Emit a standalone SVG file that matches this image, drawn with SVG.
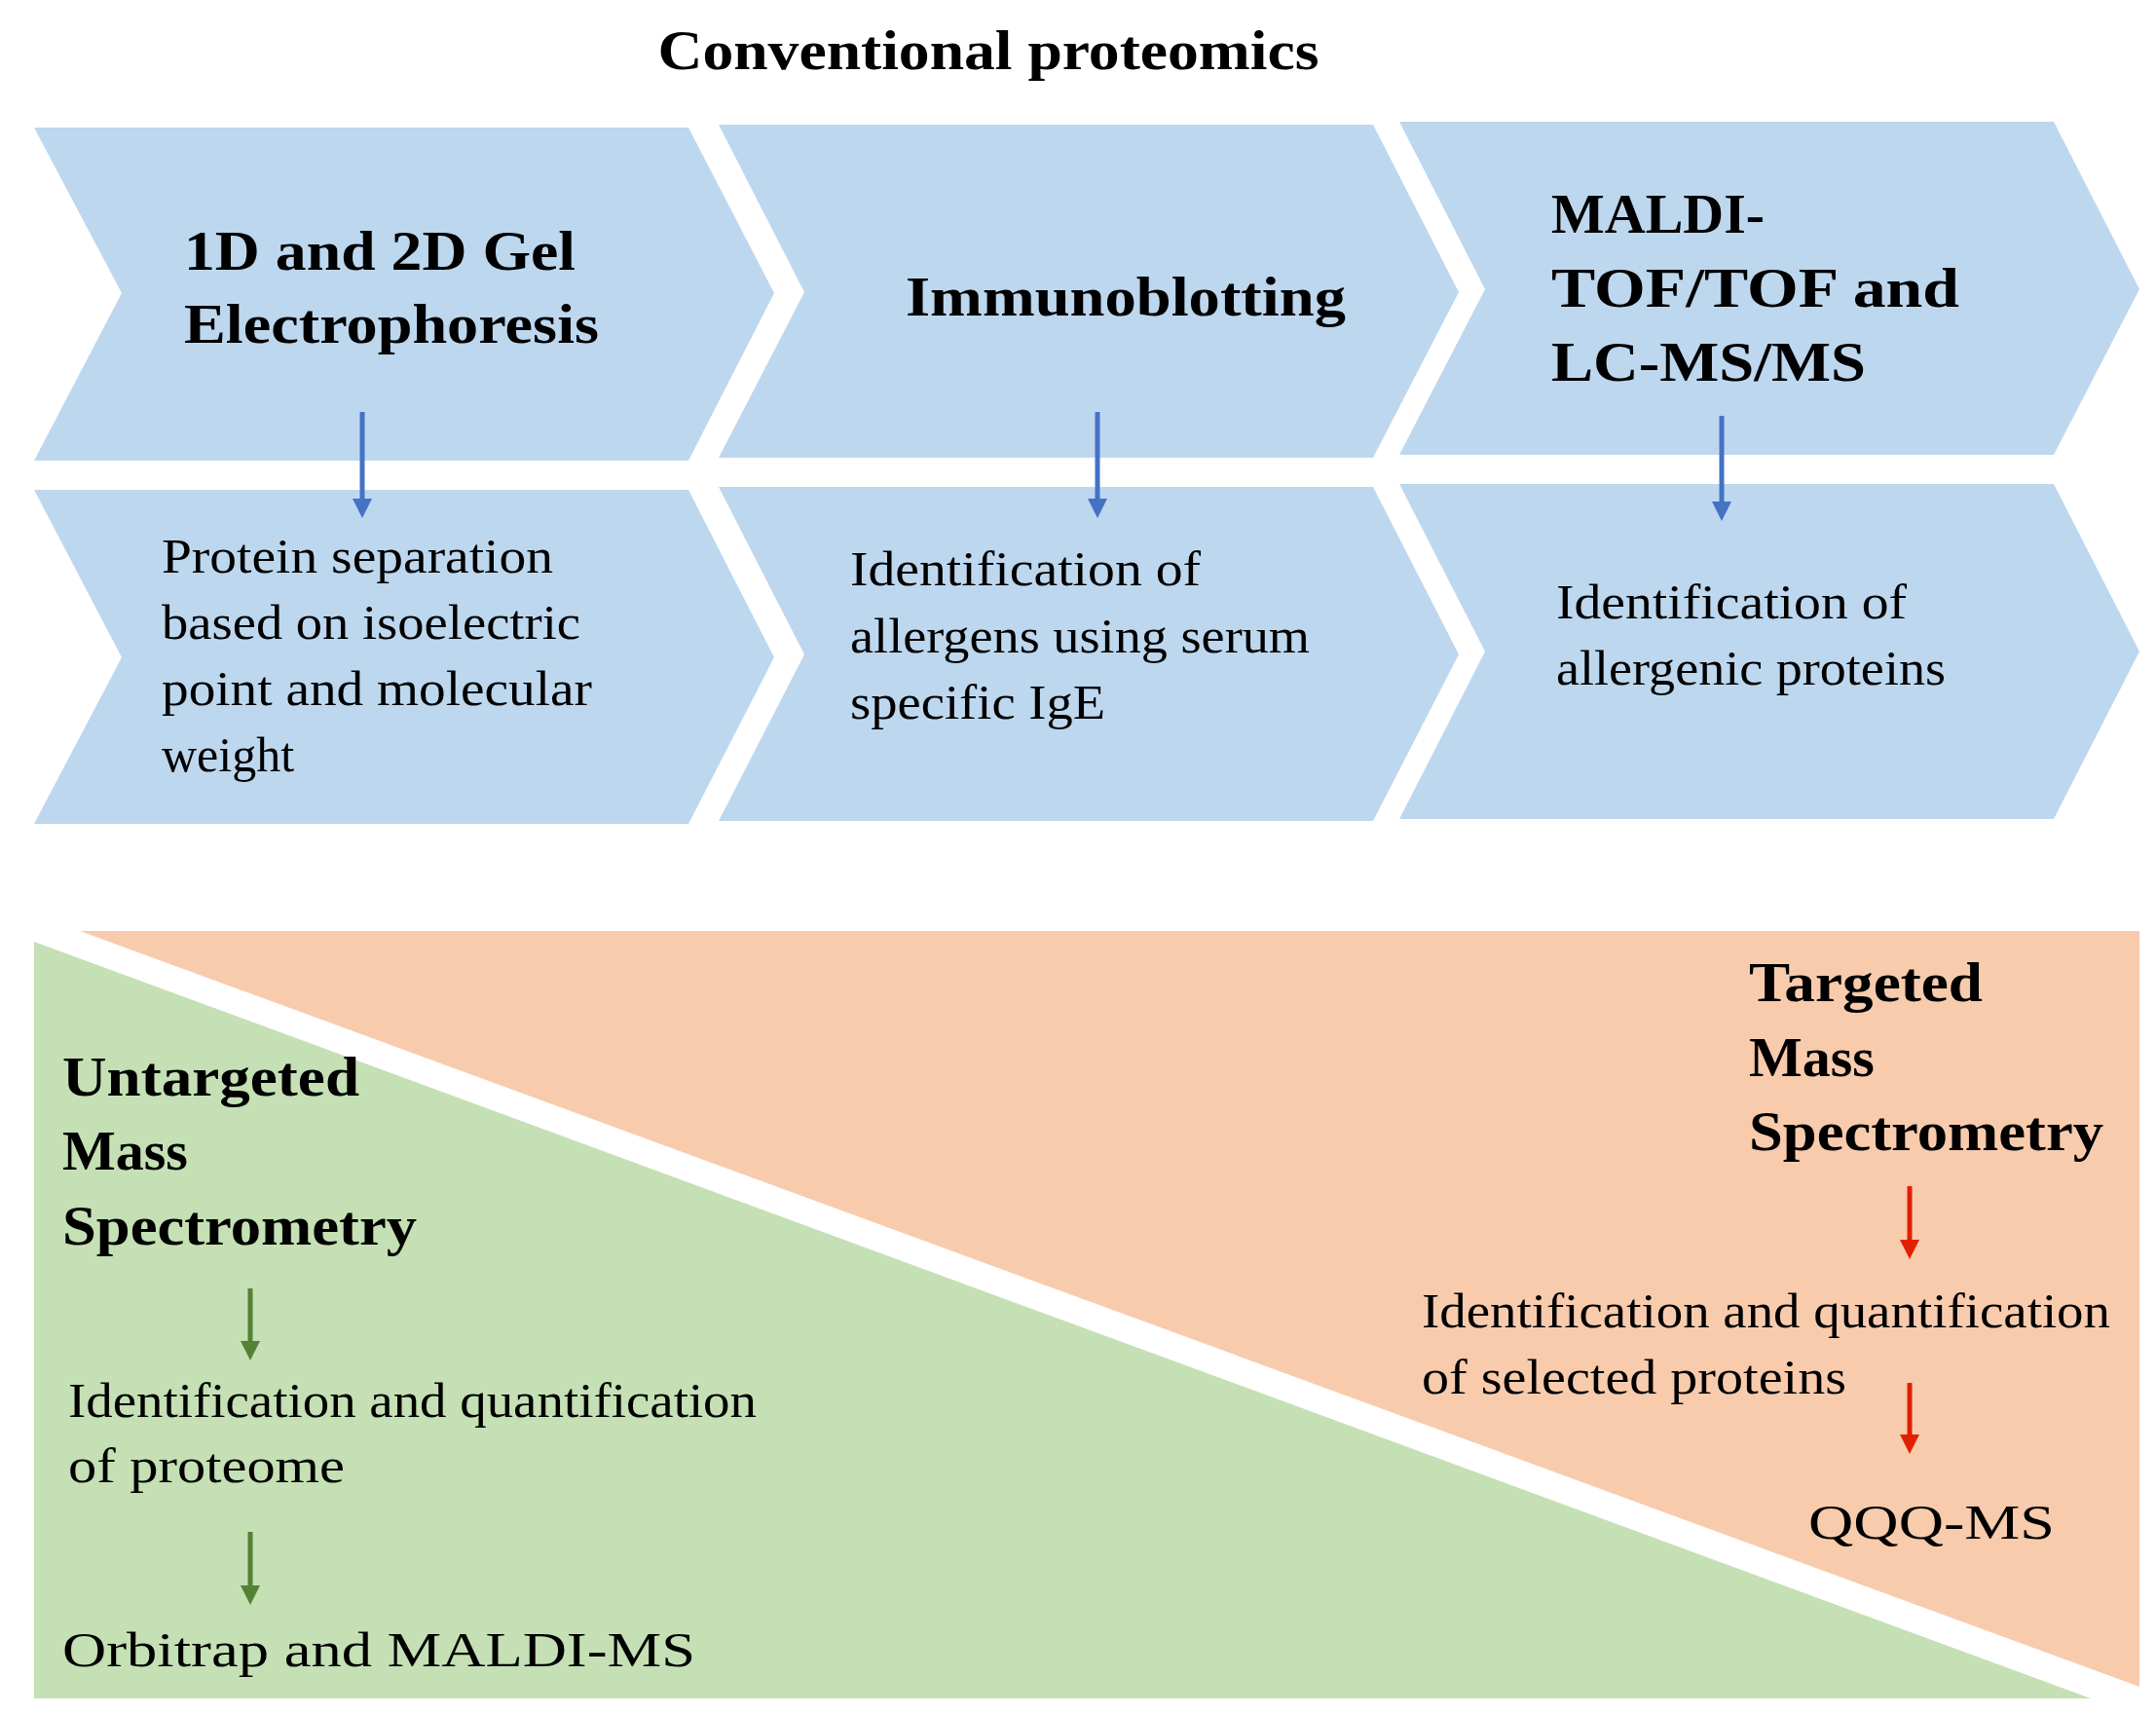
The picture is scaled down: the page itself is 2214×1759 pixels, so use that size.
<svg xmlns="http://www.w3.org/2000/svg" width="2214" height="1759" viewBox="0 0 2214 1759">
<style>
.chev{fill:#BDD7EE}
.b{font-family:"Liberation Serif",serif;font-weight:bold;font-size:58px;fill:#000}
.r{font-family:"Liberation Serif",serif;font-size:50px;fill:#000}
.bl{stroke:#4472C4;stroke-width:5;fill:none}
.gr{stroke:#548235;stroke-width:5;fill:none}
.rd{stroke:#E02000;stroke-width:5;fill:none}
</style>
<defs>
<marker id="mb" markerWidth="4" markerHeight="4" refX="2" refY="2" orient="auto" markerUnits="strokeWidth"><path d="M0,0L4,2L0,4Z" fill="#4472C4"/></marker>
<marker id="mg" markerWidth="4" markerHeight="4" refX="2" refY="2" orient="auto" markerUnits="strokeWidth"><path d="M0,0L4,2L0,4Z" fill="#548235"/></marker>
<marker id="mr" markerWidth="4" markerHeight="4" refX="2" refY="2" orient="auto" markerUnits="strokeWidth"><path d="M0,0L4,2L0,4Z" fill="#E02000"/></marker>
</defs>
<rect width="2214" height="1759" fill="#fff"/>
<text class="b" x="1015" y="71" text-anchor="middle" textLength="679" lengthAdjust="spacingAndGlyphs">Conventional proteomics</text>
<g id="n1"><polygon class="chev" points="35,131 707,131 795,301 707,473 35,473 125,301"/>
<text class="b" x="189" y="277" textLength="402" lengthAdjust="spacingAndGlyphs">1D and 2D Gel</text>
<text class="b" x="189" y="352" textLength="426" lengthAdjust="spacingAndGlyphs">Electrophoresis</text></g>
<g id="n2"><polygon class="chev" points="738,128 1410,128 1498,300 1410,470 738,470 826,300"/>
<text class="b" x="930" y="324" textLength="452" lengthAdjust="spacingAndGlyphs">Immunoblotting</text></g>
<g id="n3"><polygon class="chev" points="1437,125 2109,125 2197,297 2109,467 1437,467 1525,297"/>
<text class="b" x="1593" y="239">MALDI-</text>
<text class="b" x="1593" y="315" textLength="419" lengthAdjust="spacingAndGlyphs">TOF/TOF and</text>
<text class="b" x="1593" y="391" textLength="323" lengthAdjust="spacingAndGlyphs">LC-MS/MS</text></g>
<g id="n4"><polygon class="chev" points="35,503 707,503 795,675 707,846 35,846 125,675"/>
<text class="r" x="166" y="588" textLength="402" lengthAdjust="spacingAndGlyphs">Protein separation</text>
<text class="r" x="166" y="656" textLength="430" lengthAdjust="spacingAndGlyphs">based on isoelectric</text>
<text class="r" x="166" y="724" textLength="442" lengthAdjust="spacingAndGlyphs">point and molecular</text>
<text class="r" x="166" y="792">weight</text></g>
<g id="n5"><polygon class="chev" points="738,500 1410,500 1498,672 1410,843 738,843 826,672"/>
<text class="r" x="873" y="601" textLength="360" lengthAdjust="spacingAndGlyphs">Identification of</text>
<text class="r" x="873" y="670" textLength="472" lengthAdjust="spacingAndGlyphs">allergens using serum</text>
<text class="r" x="873" y="738" textLength="262" lengthAdjust="spacingAndGlyphs">specific IgE</text></g>
<g id="n6"><polygon class="chev" points="1437,497 2109,497 2197,669 2109,841 1437,841 1525,669"/>
<text class="r" x="1598" y="635" textLength="360" lengthAdjust="spacingAndGlyphs">Identification of</text>
<text class="r" x="1598" y="703" textLength="400" lengthAdjust="spacingAndGlyphs">allergenic proteins</text></g>
<g id="bottom">
<polygon points="82,956 2197,956 2197,1732" fill="#F8CBAD"/>
<polygon points="35,967 35,1744 2147,1744" fill="#C5E0B4"/>
<text class="b" x="64" y="1125" textLength="305" lengthAdjust="spacingAndGlyphs">Untargeted</text>
<text class="b" x="64" y="1201">Mass</text>
<text class="b" x="64" y="1278" textLength="364" lengthAdjust="spacingAndGlyphs">Spectrometry</text>
<text class="r" x="70" y="1455" textLength="707" lengthAdjust="spacingAndGlyphs">Identification and quantification</text>
<text class="r" x="70" y="1522" textLength="284" lengthAdjust="spacingAndGlyphs">of proteome</text>
<text class="r" x="64" y="1711" font-size="56" textLength="650" lengthAdjust="spacingAndGlyphs">Orbitrap and MALDI-MS</text>
<text class="b" x="1796" y="1028" textLength="240" lengthAdjust="spacingAndGlyphs">Targeted</text>
<text class="b" x="1796" y="1105">Mass</text>
<text class="b" x="1796" y="1181" textLength="364" lengthAdjust="spacingAndGlyphs">Spectrometry</text>
<text class="r" x="1460" y="1363" textLength="707" lengthAdjust="spacingAndGlyphs">Identification and quantification</text>
<text class="r" x="1460" y="1431" textLength="436" lengthAdjust="spacingAndGlyphs">of selected proteins</text>
<text class="r" x="1857" y="1580" font-size="56" textLength="253" lengthAdjust="spacingAndGlyphs">QQQ-MS</text>
</g>
<g id="connectors">
<line class="bl" x1="372" y1="423" x2="372" y2="522" marker-end="url(#mb)"/>
<line class="bl" x1="1127" y1="423" x2="1127" y2="522" marker-end="url(#mb)"/>
<line class="bl" x1="1768" y1="427" x2="1768" y2="525" marker-end="url(#mb)"/>
<line class="gr" x1="257" y1="1323" x2="257" y2="1387" marker-end="url(#mg)"/>
<line class="gr" x1="257" y1="1573" x2="257" y2="1638" marker-end="url(#mg)"/>
<line class="rd" x1="1961" y1="1218" x2="1961" y2="1283" marker-end="url(#mr)"/>
<line class="rd" x1="1961" y1="1420" x2="1961" y2="1483" marker-end="url(#mr)"/>
</g>
</svg>
